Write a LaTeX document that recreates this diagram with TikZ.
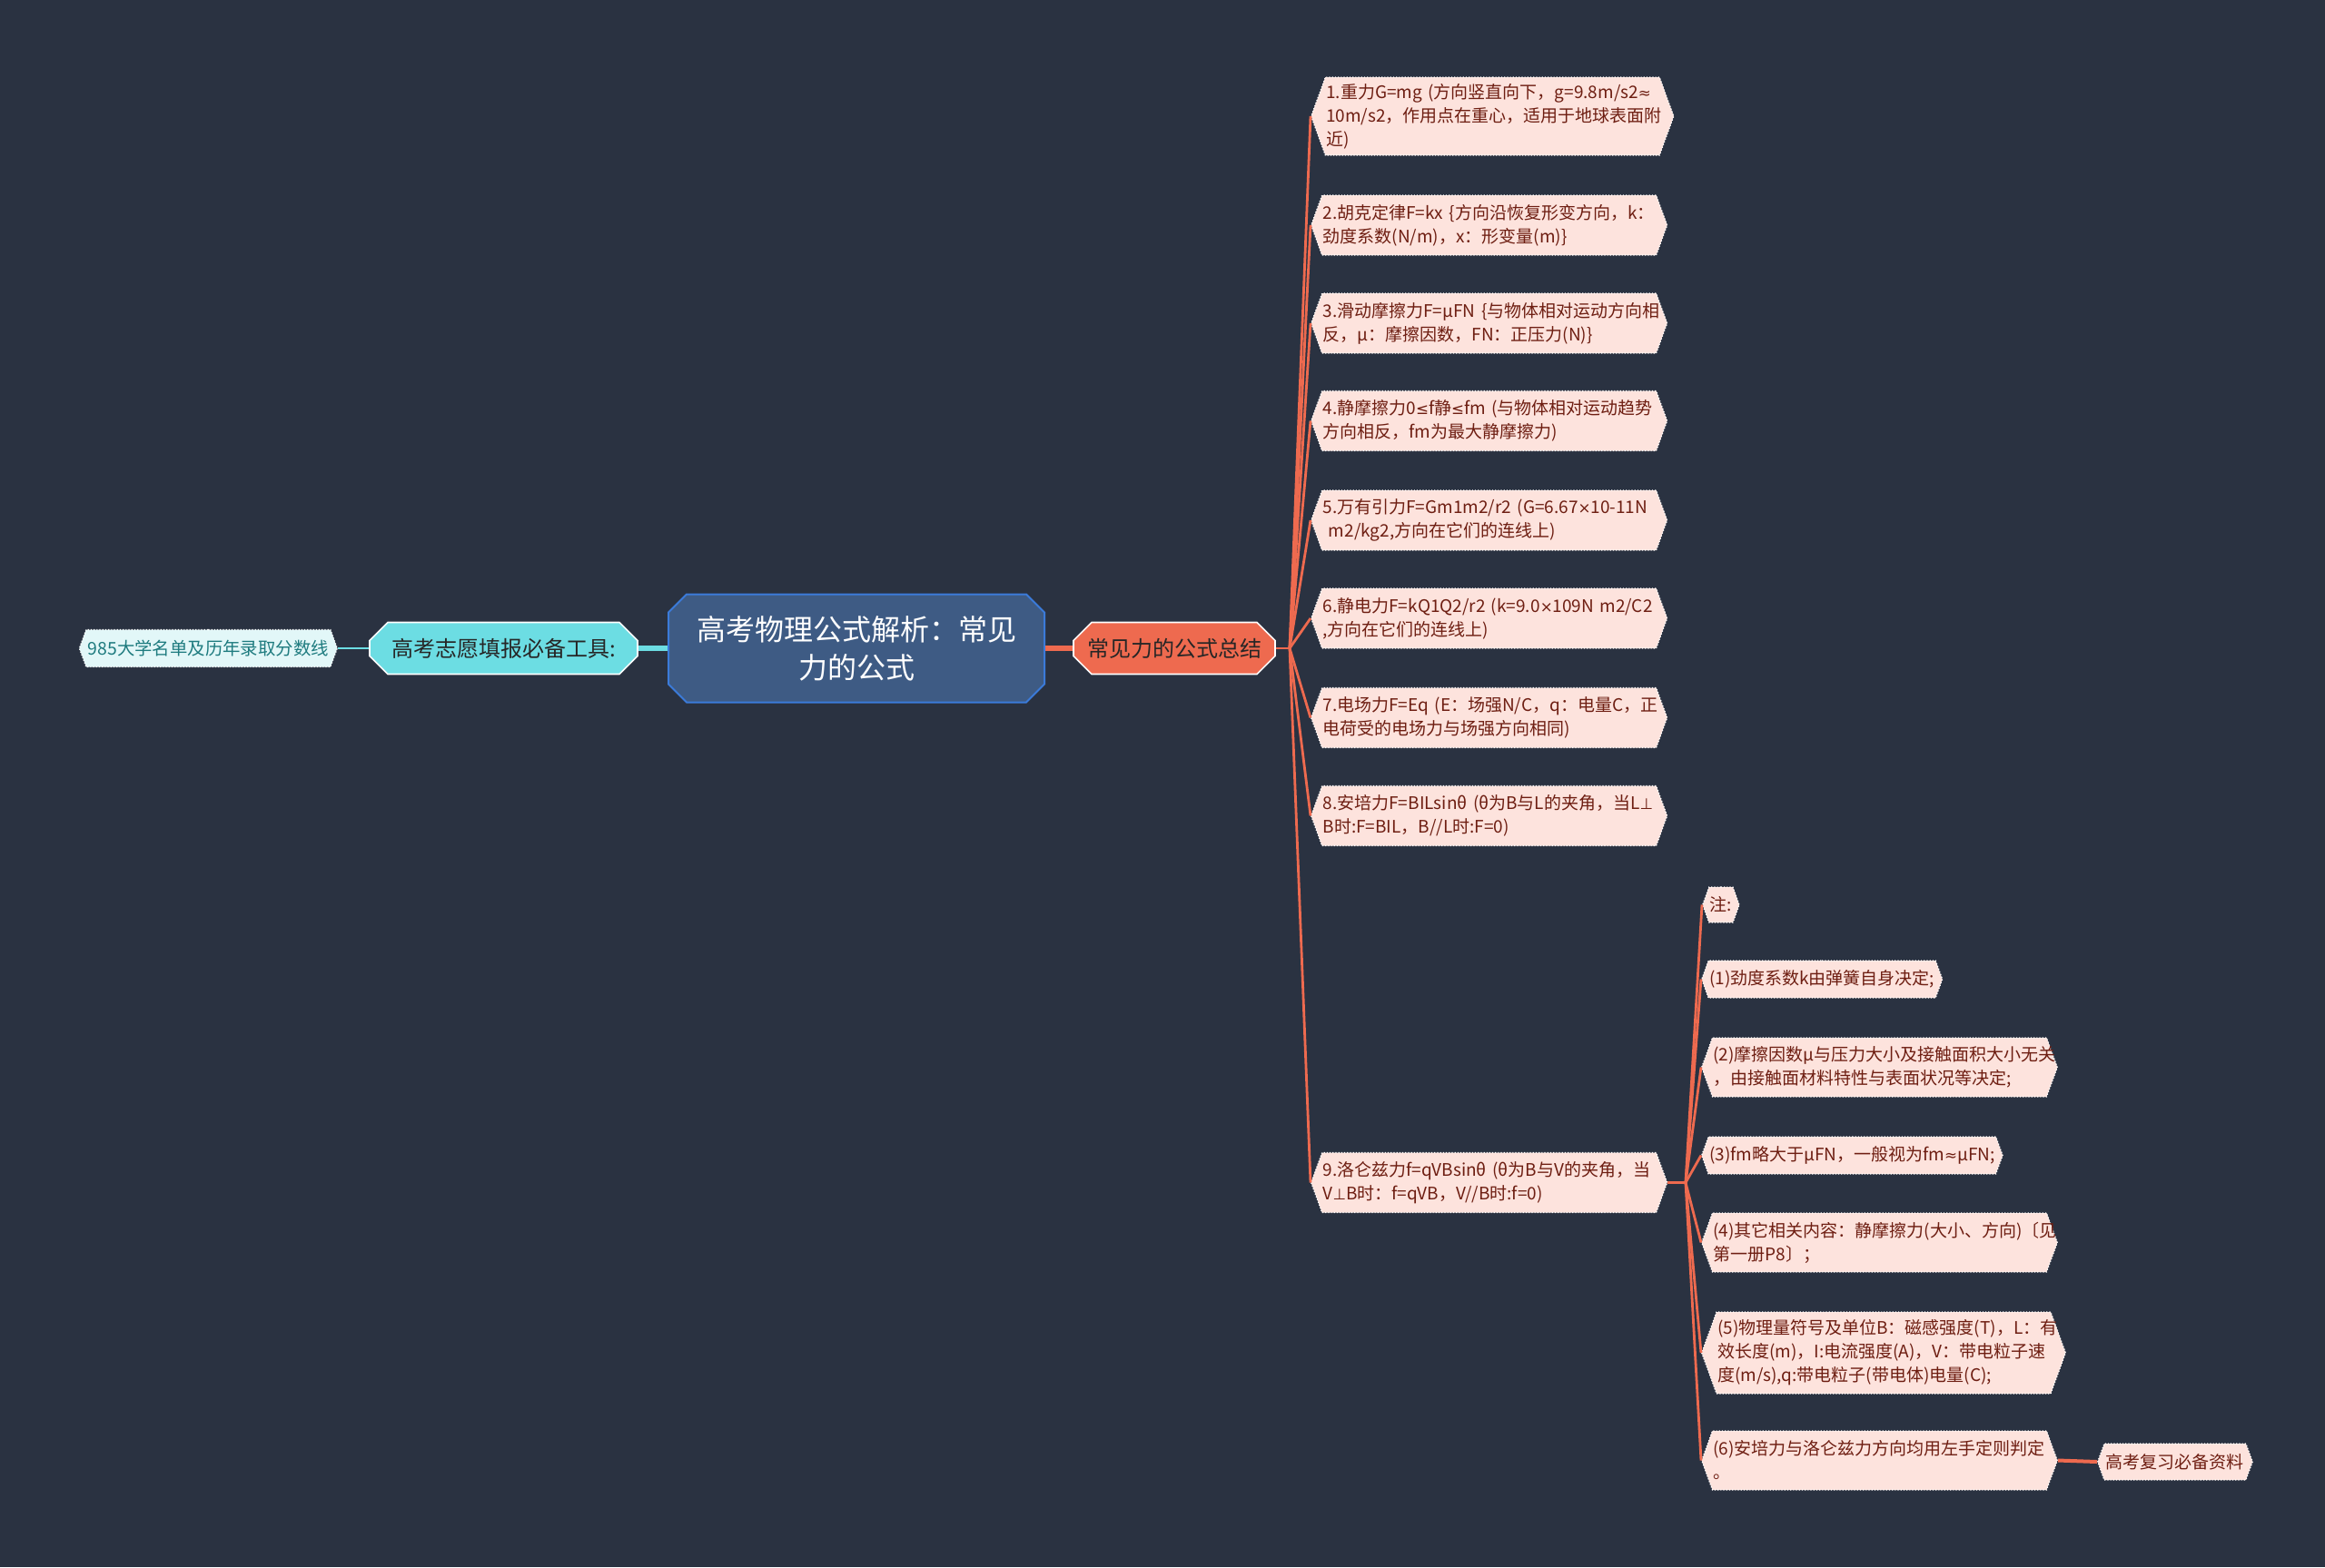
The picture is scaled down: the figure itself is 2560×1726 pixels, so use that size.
\documentclass[tikz,border=0pt]{standalone}
\usepackage{fontspec}
\setmainfont{Noto Sans CJK SC}
\newfontfamily\symfont{DejaVu Sans}[Scale=0.88]
\newcommand{\sym}[1]{{\symfont #1}}
\usepackage{tikz}
\usetikzlibrary{shapes.misc,shapes.symbols}
\definecolor{bgnavy}{HTML}{2A3241}
\definecolor{rootfill}{HTML}{3E5B84}
\definecolor{rootedge}{HTML}{3B7BDA}
\definecolor{coral}{HTML}{EE6A4F}
\definecolor{leaffill}{HTML}{FDE3DD}
\definecolor{leaftext}{HTML}{6E1E12}
\definecolor{cyanfill}{HTML}{6CDDE3}
\definecolor{cyanpale}{HTML}{E2F7F8}
\definecolor{tealtext}{HTML}{1E7B7F}
\tikzset{
  topic/.style={chamfered rectangle, chamfered rectangle xsep=5pt, chamfered rectangle ysep=5pt, draw=white, line width=0.8pt, align=center, inner sep=2pt},
  leaf/.style={shape=signal, signal to=west and east, signal pointer angle=140, anchor=west, fill=leaffill, draw=white, densely dotted, line width=0.6pt, text=leaftext, align=left, inner xsep=0.5pt, inner ysep=1pt, font=\fontsize{9.5}{13}\selectfont},
  formula/.style={leaf, minimum height=33pt, text width=183pt},
  branch/.style={coral, line width=1.4pt},
  cyanbranch/.style={cyanfill, line width=1.4pt}
}

\begin{document}
\begin{tikzpicture}[x=0.5pt,y=-0.5pt]
  \useasboundingbox (0,0) rectangle (2560,1726);
  \fill[bgnavy] (0,0) rectangle (2560,1726);

  % central topic and main branches
  \node[topic, draw=rootedge, line width=1pt, fill=rootfill, text=white, minimum width=207pt, minimum height=59.5pt, font=\fontsize{16}{21}\selectfont] (root) at (943,714) {高考物理公式解析：常见\\力的公式};
  \node[topic, fill=cyanfill, text=black!85, minimum width=147.5pt, minimum height=28.5pt, font=\fontsize{12}{14}\selectfont] (tools) at (554.5,714) {高考志愿填报必备工具:};
  \node[leaf, anchor=east, fill=cyanpale, text=tealtext, align=center, minimum height=20.5pt, inner xsep=1pt, font=\fontsize{9.7}{11}\selectfont] (list985) at (372,714) {985大学名单及历年录取分数线};
  \node[topic, fill=coral, text=black!85, minimum width=111pt, minimum height=28.5pt, font=\fontsize{12}{14}\selectfont] (summary) at (1293,714) {常见力的公式总结};

  % formulas
  \node[formula, minimum height=43pt] (leaf1) at (1443,128) {1.重力G=mg~(方向竖直向下，g=9.8m/s2\sym{≈}\\10m/s2，作用点在重心，适用于地球表面附\\近)};
  \node[formula] (leaf2) at (1443,248) {2.胡克定律F=kx~\{方向沿恢复形变方向，k：\\劲度系数(N/m)，x：形变量(m)\}};
  \node[formula] (leaf3) at (1443,356) {3.滑动摩擦力F=μFN~\{与物体相对运动方向相\\反，μ：摩擦因数，FN：正压力(N)\}};
  \node[formula] (leaf4) at (1443,463.5) {4.静摩擦力0\sym{≤}f静\sym{≤}fm~(与物体相对运动趋势\\方向相反，fm为最大静摩擦力)};
  \node[formula] (leaf5) at (1443,573) {5.万有引力F=Gm1m2/r2~(G=6.67\sym{×}10\mbox{-}11N\\~m2/kg2,方向在它们的连线上)};
  \node[formula] (leaf6) at (1443,681) {6.静电力F=kQ1Q2/r2~(k=9.0\sym{×}109N~m2/C2\\,方向在它们的连线上)};
  \node[formula] (leaf7) at (1443,790.5) {7.电场力F=Eq~(E：场强N/C，q：电量C，正\\电荷受的电场力与场强方向相同)};
  \node[formula] (leaf8) at (1443,898.5) {8.安培力F=BILsinθ~(θ为B与L的夹角，当L\sym{⊥}\\B时:F=BIL，B//L时:F=0)};
  \node[formula] (leaf9) at (1443,1302.5) {9.洛仑兹力f=qVBsinθ~(θ为B与V的夹角，当\\V\sym{⊥}B时：f=qVB，V//B时:f=0)};

  % notes on leaf 9
  \node[leaf, minimum height=19.5pt] (note) at (1874,996.5) {注:};
  \node[leaf, minimum height=20.5pt] (note1) at (1873,1078.5) {(1)劲度系数k由弹簧自身决定;};
  \node[formula, minimum height=32.5pt] (note2) at (1873,1175.5) {(2)摩擦因数μ与压力大小及接触面积大小无关\\，由接触面材料特性与表面状况等决定;};
  \node[leaf, minimum height=20.5pt] (note3) at (1873,1272.5) {(3)fm略大于μFN，一般视为fm\sym{≈}μFN;};
  \node[formula, minimum height=32.5pt] (note4) at (1873,1368.5) {(4)其它相关内容：静摩擦力(大小、方向)〔见\\第一册P8〕；};
  \node[formula, minimum height=45pt] (note5) at (1873,1490) {(5)物理量符号及单位B：磁感强度(T)，L：有\\效长度(m)，I:电流强度(A)，V：带电粒子速\\度(m/s),q:带电粒子(带电体)电量(C);};
  \node[formula, minimum height=32.5pt] (note6) at (1873,1608.5) {(6)安培力与洛仑兹力方向均用左手定则判定\\。};
  \node[leaf, align=center, minimum height=20pt, inner xsep=1pt] (review) at (2309,1610) {高考复习必备资料};

  % connectors
  \draw[coral, line width=2.6pt] (root.east) -- (summary.west);
  \draw[cyanbranch, line width=2.6pt] (root.west) -- (tools.east);
  \draw[cyanbranch] (tools.west) -- (list985.east);
  \coordinate (sumfork) at (1420,714);
  \draw[branch] (summary.east) -- (sumfork);
  \foreach \n in {1,...,9}
    \draw[branch] (sumfork) -- (leaf\n.west);
  \coordinate (notefork) at (1856,1302.5);
  \draw[branch] (leaf9.east) -- (notefork);
  \foreach \n in {note,note1,note2,note3,note4,note5,note6}
    \draw[branch] (notefork) -- (\n.west);
  \draw[branch, line width=2pt] (note6.east) -- (review.west);
\end{tikzpicture}
\end{document}
